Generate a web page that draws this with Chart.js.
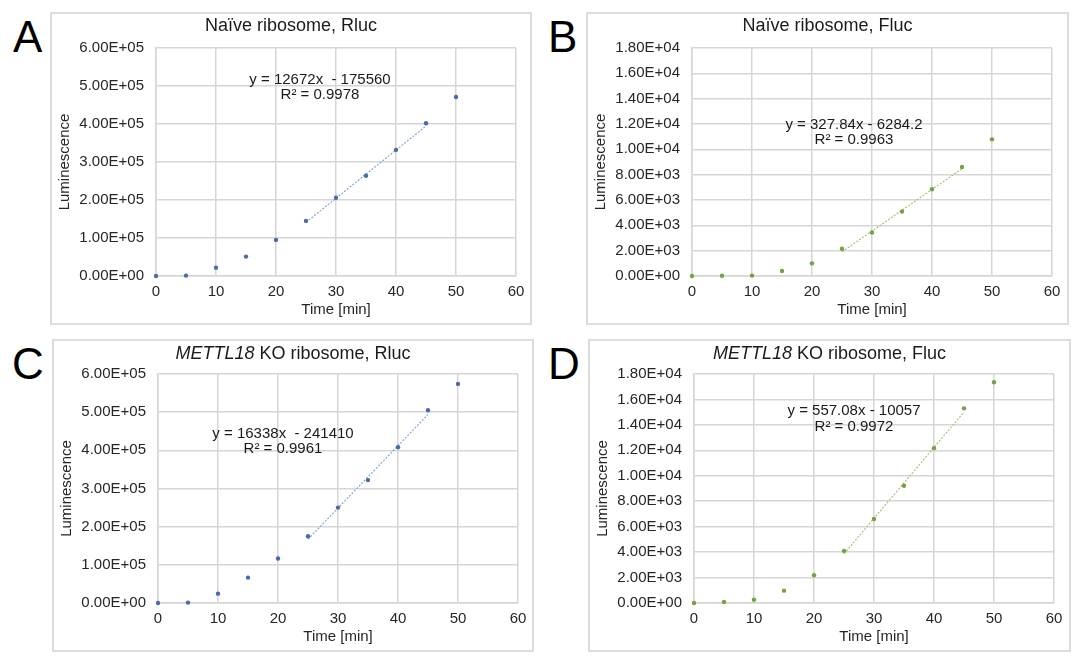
<!DOCTYPE html>
<html>
<head>
<meta charset="utf-8">
<script src="https://cdn.jsdelivr.net/npm/chart.js@4.4.1/dist/chart.umd.min.js"></script>
<style>
  body { margin: 0; background: #fff; }
  #page { position: relative; width: 1080px; height: 663px; overflow: hidden;
          font-family: 'Liberation Sans', Arial, Helvetica, sans-serif; color: #1a1a1a; }
  .panel { position: absolute; }
  .panel::after { content: ''; position: absolute; inset: 0; border: 2px solid #dcdcdc; pointer-events: none; }
  .panel canvas { position: absolute; left: 0; top: 0; }
  .title { position: absolute; left: 0; right: 0; text-align: center; font-size: 18px; line-height: 18px; white-space: nowrap; }
  .letter { position: absolute; font-size: 44px; line-height: 44px; color: #000; }
  .eq { position: absolute; transform: translate(-50%, -50%); text-align: center; font-size: 15px;
        white-space: pre; color: #1a1a1a; }
</style>
</head>
<body>
<div id="page"></div>
<script>
// --- Data ---
const timeMin = [0, 5, 10, 15, 20, 25, 30, 35, 40, 45, 50];
const naiveRluc = [0, 1000, 22000, 51000, 95000, 145000, 206000, 264000, 332000, 402000, 471000];
const naiveFluc = [0, 20, 30, 400, 1000, 2150, 3440, 5090, 6850, 8610, 10790];
const koRluc = [0, 1000, 24500, 66500, 116500, 175000, 250000, 322000, 408000, 505000, 574000];
const koFluc = [0, 80, 260, 970, 2180, 4100, 6600, 9220, 12170, 15300, 17350];

// linear trendlines (Excel), fitted over 25..45 min
const trendSlopes = [12672, 327.84, 16338, 557.08];
const trendIntercepts = [-175560, -6284.2, -241410, -10057];
const trendRange = [25, 45];
const trendR2 = ['0.9978', '0.9963', '0.9961', '0.9972'];
const trendEqText = ['y = 12672x  - 175560', 'y = 327.84x - 6284.2', 'y = 16338x  - 241410', 'y = 557.08x - 10057'];

// tick labels
const xTicks = [0, 10, 20, 30, 40, 50, 60];
const yTicksRluc = [0, 100000, 200000, 300000, 400000, 500000, 600000];
const yTicksFluc = [0, 2000, 4000, 6000, 8000, 10000, 12000, 14000, 16000, 18000];

const titles = ['Naïve ribosome, Rluc', 'Naïve ribosome, Fluc',
                '<i>METTL18</i> KO ribosome, Rluc', '<i>METTL18</i> KO ribosome, Fluc'];
const letters = ['A', 'B', 'C', 'D'];

// --- Layout (page pixels) ---
const BLUE = '#4a6aa8', BLUE_TREND = '#86a6d6';
const GREEN = '#76a044', GREEN_TREND = '#a4c47c';
const panels = [
  { series: naiveRluc, yTicks: yTicksRluc, box: [50, 12, 482, 313], pad: 36, letter: [13, 15], eq: [320, 85.5], color: BLUE, trend: BLUE_TREND },
  { series: naiveFluc, yTicks: yTicksFluc, box: [586, 12, 483, 313], pad: 36, letter: [548, 15], eq: [854, 130.5], color: GREEN, trend: GREEN_TREND },
  { series: koRluc, yTicks: yTicksRluc, box: [52, 339, 482, 313], pad: 35, letter: [12, 342], eq: [283, 439.5], color: BLUE, trend: BLUE_TREND },
  { series: koFluc, yTicks: yTicksFluc, box: [588, 339, 483, 313], pad: 35, letter: [548, 342], eq: [854, 417.5], color: GREEN, trend: GREEN_TREND }
];

const FONT = "'Liberation Sans', Arial, Helvetica, sans-serif";
const GRID = '#d6d6d6';

// 6.00E+05 style labels
function sciLabel(v) {
  const [m, e] = Number(v).toExponential(2).split('e');
  const n = Math.abs(parseInt(e, 10));
  return m + 'E' + (e[0] === '-' ? '-' : '+') + (n < 10 ? '0' + n : n);
}

const page = document.getElementById('page');

panels.forEach((p, i) => {
  const [bx, by, bw, bh] = p.box;

  const letter = document.createElement('div');
  letter.className = 'letter';
  letter.style.left = p.letter[0] + 'px';
  letter.style.top = p.letter[1] + 'px';
  letter.textContent = letters[i];
  page.appendChild(letter);

  const panel = document.createElement('div');
  panel.className = 'panel';
  panel.style.cssText = `left:${bx}px;top:${by}px;width:${bw}px;height:${bh}px`;
  page.appendChild(panel);

  const canvas = document.createElement('canvas');
  canvas.width = bw;
  canvas.height = bh;
  canvas.style.width = bw + 'px';
  canvas.style.height = bh + 'px';
  panel.appendChild(canvas);

  const title = document.createElement('div');
  title.className = 'title';
  title.style.top = (p.pad === 36 ? 4 : 5) + 'px';
  title.innerHTML = titles[i];
  panel.appendChild(title);

  const eq = document.createElement('div');
  eq.className = 'eq';
  eq.style.left = p.eq[0] + 'px';
  eq.style.top = p.eq[1] + 'px';
  eq.style.lineHeight = (i === 3 ? 16.4 : 15.5) + 'px';
  eq.textContent = trendEqText[i] + '\nR² = ' + trendR2[i];
  page.appendChild(eq);

  const points = timeMin.map((t, k) => ({ x: t, y: p.series[k] }));
  const trend = trendRange.map(t => ({ x: t, y: trendSlopes[i] * t + trendIntercepts[i] }));

  new Chart(canvas.getContext('2d'), {
    type: 'scatter',
    data: {
      datasets: [
        { data: trend, showLine: true, pointRadius: 0, borderColor: p.trend, borderWidth: 1.2,
          borderDash: [2, 1.5], clip: false, order: 2 },
        { data: points, pointRadius: 2.2, pointBackgroundColor: p.color, pointBorderWidth: 0,
          clip: false, order: 1 }
      ]
    },
    options: {
      responsive: false,
      animation: false,
      layout: { padding: { top: p.pad, right: bw - 466, left: 0, bottom: 0 } },
      plugins: { legend: { display: false }, tooltip: { enabled: false } },
      scales: {
        x: {
          type: 'linear', min: 0, max: 60,
          afterBuildTicks: s => { s.ticks = xTicks.map(v => ({ value: v })); },
          afterFit: s => { s.height = 49; },
          grid: { color: GRID, lineWidth: 1.5, drawTicks: false },
          border: { color: GRID, width: 1.5 },
          ticks: { padding: 7, color: '#262626', font: { family: FONT, size: 15 } },
          title: { display: true, text: 'Time [min]', color: '#262626',
                   font: { family: FONT, size: 15 }, padding: { top: 0, bottom: 6 } }
        },
        y: {
          type: 'linear', min: p.yTicks[0], max: p.yTicks[p.yTicks.length - 1],
          afterBuildTicks: s => { s.ticks = p.yTicks.map(v => ({ value: v })); },
          afterFit: s => { s.width = 106; },
          grid: { color: GRID, lineWidth: 1.5, drawTicks: false },
          border: { color: GRID, width: 1.5 },
          ticks: { padding: 12, color: '#262626', font: { family: FONT, size: 15 }, callback: v => sciLabel(v) },
          title: { display: true, text: 'Luminescence', color: '#262626',
                   font: { family: FONT, size: 15 }, padding: { top: 6, bottom: 0 } }
        }
      }
    }
  });
});
</script>
</body>
</html>
